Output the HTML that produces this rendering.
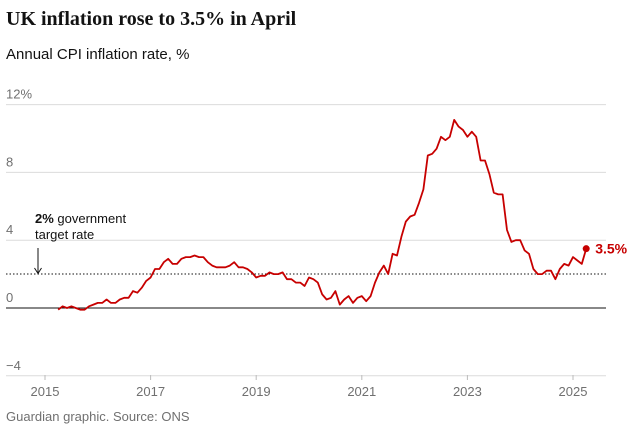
<!DOCTYPE html>
<html><head><meta charset="utf-8"><style>
body{margin:0;background:#fff;width:634px;height:431px;overflow:hidden;font-family:"Liberation Sans",sans-serif}
</style></head><body>
<svg width="634" height="431">
<text x="6" y="25" font-family="Liberation Serif,serif" font-weight="bold" font-size="20" fill="#121212">UK inflation rose to 3.5% in April</text>
<text x="6" y="59" font-size="15" fill="#121212">Annual CPI inflation rate, %</text>
<g id="grid"></g>
<g id="xaxis"></g>
<line x1="6" x2="606" y1="274" y2="274" stroke="#121212" stroke-dasharray="1.5,2" stroke-width="1" id="target"/>
<text x="35" y="223" font-size="13" fill="#121212"><tspan font-weight="bold">2%</tspan> government</text>
<text x="35" y="239" font-size="13" fill="#121212">target rate</text>
<line x1="38" x2="38" y1="248" y2="273" stroke="#121212"/>
<path d="M34.5,268 L38,273.5 L41.5,268" fill="none" stroke="#121212"/>
<path id="series" fill="none" stroke="#c70000" stroke-width="1.8" stroke-linejoin="round"/>
<circle id="dot" r="3.5" fill="#c70000"/>
<text id="lastlbl" font-size="14" font-weight="bold" fill="#c70000">3.5%</text>
<text x="6" y="421" font-size="13" fill="#707070">Guardian graphic. Source: ONS</text>
</svg>
<script>
const yTicks=[12,8,4,0,-4];
const yTickLabels=["12%","8","4","0","\u22124"];
const xYears=[2015,2017,2019,2021,2023,2025];
const startYear=2015, startMonth=4;
const cpi=[-0.1,0.1,0.0,0.1,0.0,-0.1,-0.1,0.1,0.2,
0.3,0.3,0.5,0.3,0.3,0.5,0.6,0.6,1.0,0.9,1.2,1.6,
1.8,2.3,2.3,2.7,2.9,2.6,2.6,2.9,3.0,3.0,3.1,3.0,
3.0,2.7,2.5,2.4,2.4,2.4,2.5,2.7,2.4,2.4,2.3,2.1,
1.8,1.9,1.9,2.1,2.0,2.0,2.1,1.7,1.7,1.5,1.5,1.3,
1.8,1.7,1.5,0.8,0.5,0.6,1.0,0.2,0.5,0.7,0.3,0.6,
0.7,0.4,0.7,1.5,2.1,2.5,2.0,3.2,3.1,4.2,5.1,5.4,
5.5,6.2,7.0,9.0,9.1,9.4,10.1,9.9,10.1,11.1,10.7,10.5,
10.1,10.4,10.1,8.7,8.7,7.9,6.8,6.7,6.7,4.6,3.9,4.0,
4.0,3.4,3.2,2.3,2.0,2.0,2.2,2.2,1.7,2.3,2.6,2.5,
3.0,2.8,2.6,3.5];
const ns="http://www.w3.org/2000/svg";
const y=v=>308-v*16.95;
const x=m=>45+m*4.4;
const grid=document.getElementById('grid');
yTicks.forEach((t,i)=>{
 const l=document.createElementNS(ns,'line');
 l.setAttribute('x1',6);l.setAttribute('x2',606);l.setAttribute('y1',y(t));l.setAttribute('y2',y(t));
 l.setAttribute('stroke',t===0?'#121212':'#dcdcdc');l.setAttribute('stroke-width',1);
 
 
 grid.appendChild(l);
 const tx=document.createElementNS(ns,'text');
 tx.setAttribute('x',6);tx.setAttribute('y',y(t)-6);tx.setAttribute('font-size',13);tx.setAttribute('fill','#707070');
 tx.textContent=yTickLabels[i];
 
 
 grid.appendChild(tx);
});
const xa=document.getElementById('xaxis');
xYears.forEach(yr=>{
 const px=x((yr-2015)*12);
 const l=document.createElementNS(ns,'line');
 l.setAttribute('x1',px);l.setAttribute('x2',px);l.setAttribute('y1',375);l.setAttribute('y2',380);l.setAttribute('stroke','#bbb');
 
 
 xa.appendChild(l);
 const tx=document.createElementNS(ns,'text');
 tx.setAttribute('x',px);tx.setAttribute('y',396);tx.setAttribute('font-size',13);tx.setAttribute('fill','#707070');tx.setAttribute('text-anchor','middle');
 tx.textContent=yr;
 
 
 xa.appendChild(tx);
});
const m0=(startYear-2015)*12+startMonth-1;
let d='';
cpi.forEach((v,i)=>{d+=(i?'L':'M')+x(m0+i).toFixed(1)+','+y(v).toFixed(1)});
document.getElementById('series').setAttribute('d',d);
const li=cpi.length-1, lx=x(m0+li), ly=y(cpi[li]);
const dot=document.getElementById('dot');dot.setAttribute('cx',lx);dot.setAttribute('cy',ly);
const lb=document.getElementById('lastlbl');lb.setAttribute('x',lx+9);lb.setAttribute('y',ly+5);
lb.textContent=cpi[li].toFixed(1)+'%';
</script>
</body></html>
